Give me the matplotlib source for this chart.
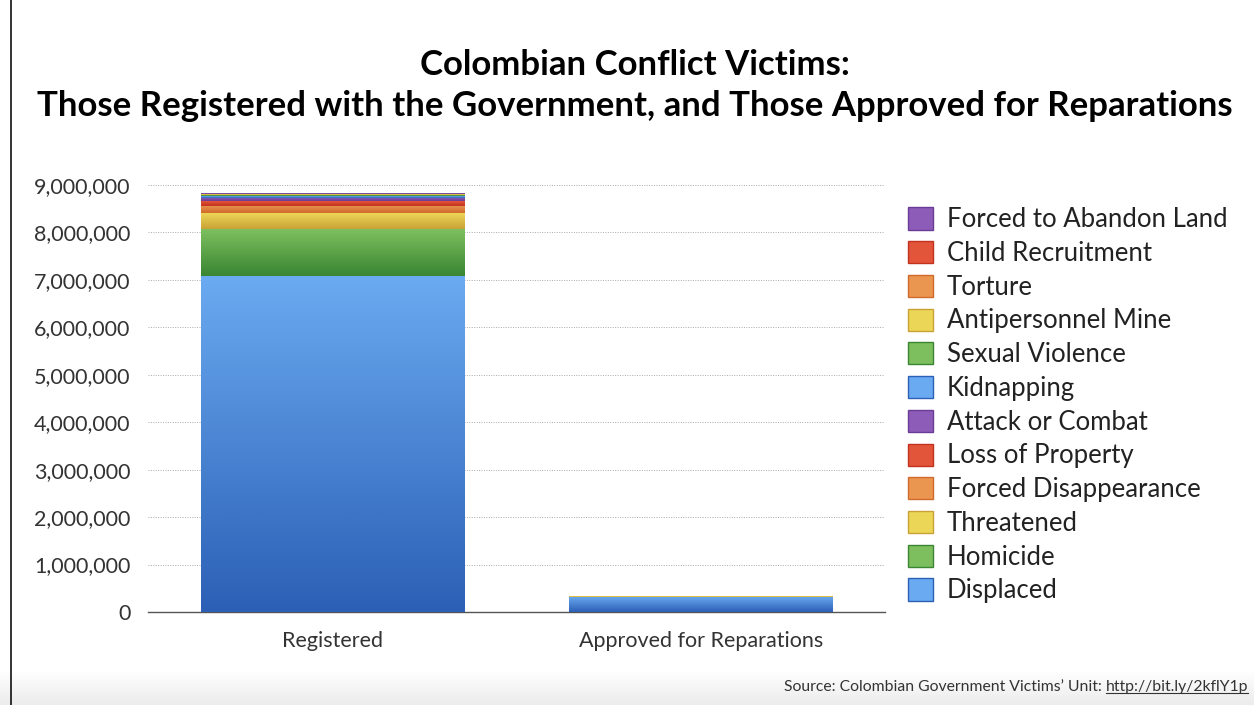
import numpy as np
import matplotlib
matplotlib.use("Agg")
import matplotlib.pyplot as plt
from matplotlib.colors import LinearSegmentedColormap
from matplotlib.ticker import FuncFormatter
from matplotlib.patches import Patch
from matplotlib.lines import Line2D

# data
groups = ["Registered", "Approved for Reparations"]
categories = ["Displaced", "Homicide", "Threatened", "Forced Disappearance",
              "Loss of Property", "Attack or Combat", "Kidnapping",
              "Sexual Violence", "Antipersonnel Mine", "Torture",
              "Child Recruitment", "Forced to Abandon Land"]
registered = [7080000, 990000, 330000, 160000, 100000, 70000, 37000,
              24000, 11000, 10000, 8000, 20000]
approved = [318000, 3000, 14000, 1500, 800, 800, 400,
            400, 200, 200, 100, 300]

# (top colour, bottom colour) for the gradient fills
cols = [("#6aaaf0", "#2c60b6"), ("#7dbf5e", "#3a8633"), ("#ecd657", "#c9a236"),
        ("#ea9550", "#d06a2a"), ("#e2553a", "#c2321f"), ("#8c5cb8", "#6a3c98")]
colors = [cols[i % 6] for i in range(len(categories))]

plt.rcParams['font.family'] = ['Lato', 'DejaVu Sans']

fig = plt.figure(figsize=(12.54, 7.05), dpi=100)
ax = fig.add_axes([148/1254, 1-612/705, (885-148)/1254, (612-185)/705])

x = np.arange(len(groups))
width = 0.715
bottoms = np.zeros(len(groups))
for i, cat in enumerate(categories):
    vals = np.array([registered[i], approved[i]])
    bars = ax.bar(x, vals, width, bottom=bottoms, color=colors[i][1], linewidth=0, zorder=2)
    cmap = LinearSegmentedColormap.from_list("g", [colors[i][1], colors[i][0]])
    for b in bars:
        x0, y0 = b.get_x(), b.get_y()
        w, h = b.get_width(), b.get_height()
        if h <= 0:
            continue
        grad = np.linspace(0, 1, 64).reshape(-1, 1)
        im = ax.imshow(grad, cmap=cmap, aspect='auto', origin='lower',
                       extent=[x0, x0 + w, y0, y0 + h], zorder=3, interpolation='bilinear')
        im.set_clip_path(b)
    bottoms += vals

ax.set_xlim(-0.5, 1.5)
ax.set_ylim(0, 9000000)
ax.set_yticks(np.arange(0, 9000001, 1000000))
ax.yaxis.set_major_formatter(FuncFormatter(lambda v, p: f"{int(v):,}"))
ax.set_xticks(x)
ax.set_xticklabels(groups)
ax.tick_params(axis='both', length=0, labelsize=15.5, colors='#333333')
ax.tick_params(axis='y', pad=12.5)
ax.tick_params(axis='x', pad=14)
ax.grid(axis='y', color='#aaaaaa', linestyle=(0, (1, 1.5)), linewidth=0.7, zorder=0)
ax.set_axisbelow(True)
for s in ['left', 'right', 'top']:
    ax.spines[s].set_visible(False)
ax.spines['bottom'].set_color('#555555')
ax.spines['bottom'].set_linewidth(1.0)

# legend
handles = [Patch(facecolor=colors[i][0], edgecolor=colors[i][1], label=categories[i])
           for i in range(len(categories))][::-1]
fig.legend(handles=handles, loc='upper left', bbox_to_anchor=(898/1254, 1-197/705),
           frameon=False, fontsize=18.5, handlelength=0.95, handleheight=0.95,
           handletextpad=0.55, labelspacing=0.34, borderaxespad=0, labelcolor='#222222')

# title
fig.text(635/1254, 1-65/705, "Colombian Conflict Victims:", ha='center', va='center',
         fontsize=25, fontweight='bold')
fig.text(635/1254, 1-106/705,
         "Those Registered with the Government, and Those Approved for Reparations",
         ha='center', va='center', fontsize=25, fontweight='bold')

# bottom grey strip
bax = fig.add_axes([0, 0, 1, 35/705])
bax.imshow(np.linspace(0, 1, 32).reshape(-1, 1), cmap=LinearSegmentedColormap.from_list(
    "s", ["#ececec", "#ffffff"]), aspect='auto', origin='lower', extent=[0, 1, 0, 1])
bax.set_axis_off()
bax.set_zorder(-1)

# frame line at left
fig.add_artist(Line2D([11/1254, 11/1254], [0, 1], color='#111111', linewidth=1.2))

# source
t1 = fig.text(1248/1254, 1-687/705, "http://bit.ly/2kflY1p", ha='right', va='center',
              fontsize=11.3, color='#333333')
fig.canvas.draw()
bb = t1.get_window_extent().transformed(fig.transFigure.inverted())
fig.text(bb.x0 - 4/1254, 1-687/705, "Source: Colombian Government Victims\u2019 Unit:",
         ha='right', va='center', fontsize=11.3, color='#333333')
fig.add_artist(Line2D([bb.x0, bb.x1], [bb.y0 + 1/705, bb.y0 + 1/705], color='#333333',
                      linewidth=0.8))

fig.savefig("out.png", dpi=100)
